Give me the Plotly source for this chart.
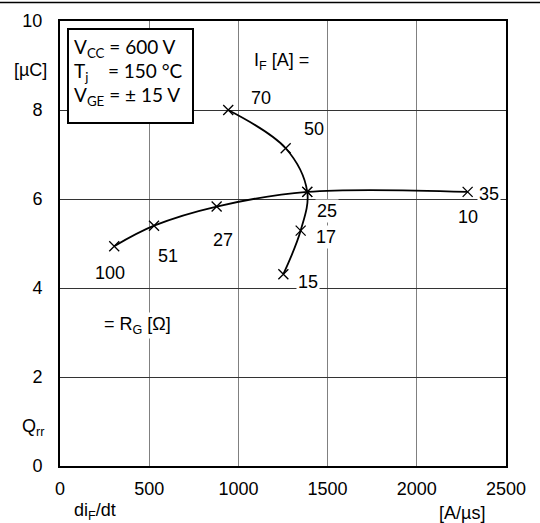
import plotly.graph_objects as go

# Qrr vs diF/dt
# R_G sweep (points labelled with gate resistance)
rg_labels = ["100", "51", "27", "25", "10"]
rg_didt = [304, 527, 878, 1386, 2285]
rg_qrr = [4.94, 5.40, 5.83, 6.16, 6.16]

# I_F sweep (points labelled with forward current)
if_labels = ["70", "50", "35", "17", "15"]
if_didt = [943, 1265, 1386, 1349, 1252]
if_qrr = [8.0, 7.14, 6.16, 5.29, 4.31]

# label positions next to the markers
rg_lab_x = [280, 605, 912, 1497, 2287]
rg_lab_y = [4.34, 4.72, 5.08, 5.73, 5.60]
if_lab_x = [1127, 1424, 2405, 1491, 1390]
if_lab_y = [8.27, 7.57, 6.11, 5.15, 4.13]

x_ticks = [0, 500, 1000, 1500, 2000, 2500]
y_ticks = [0, 2, 4, 6, 8, 10]

W, H = 540, 523
L, R, T, B = 60, 34, 21, 57
pw, ph = W - L - R, H - T - B


def px(x):
    return (x - L) / pw


def py(y):
    return (H - B - y) / ph


ARIAL = "Liberation Sans, Arial, sans-serif"
BOXFONT = "Lato, Carlito, sans-serif"


def label(x, y, t, ref="paper", **kw):
    d = dict(x=x, y=y, xref=ref, yref=ref, text=t, showarrow=False,
             xanchor="center", yanchor="middle",
             font=dict(family=ARIAL, size=18, color="black"))
    d.update(kw)
    return d


fig = go.Figure()
for xs, ys in [(rg_didt, rg_qrr), (if_didt, if_qrr)]:
    fig.add_trace(go.Scatter(
        x=xs, y=ys, mode="lines+markers",
        line=dict(color="black", width=1.8, shape="spline", smoothing=1),
        marker=dict(symbol="x-thin", size=10, line=dict(color="black", width=1.3)),
        showlegend=False, hoverinfo="skip",
    ))

# point labels (data coords, white background hides the grid behind them)
ann = []
for t, x, y in zip(rg_labels + if_labels, rg_lab_x + if_lab_x, rg_lab_y + if_lab_y):
    ann.append(label(x, y, t, ref="x", yref="y", bgcolor="white", borderpad=1))

ann.append(label(px(281), py(61), "I<sub>F</sub> [A] =", bgcolor="white"))
ann.append(label(px(137), py(325), "= R<sub>G</sub> [Ω]", bgcolor="white"))

# conditions box
box_lines = ["V<sub>CC</sub> = 600 V",
             "T<sub>j</sub>\u00a0\u00a0\u00a0 = 150 °C",
             "V<sub>GE</sub> = ± 15 V"]
for t, yy in zip(box_lines, [48, 72, 96]):
    ann.append(label(px(72), py(yy), t, xanchor="left",
                     font=dict(family=BOXFONT, size=19, color="black")))

# axis titles
ann += [
    label(px(30), py(70), "[µC]"),
    label(px(33), py(427), "Q<sub>rr</sub>"),
    label(px(95), py(511), "di<sub>F</sub>/dt"),
    label(px(462), py(513), "[A/µs]"),
]

shapes = [
    dict(type="rect", xref="paper", yref="paper", x0=px(68), x1=px(193), y0=py(29), y1=py(123),
         line=dict(color="black", width=2), fillcolor="white", layer="above"),
    dict(type="line", xref="paper", yref="paper", x0=px(0), x1=px(W), y0=py(2.5), y1=py(2.5),
         line=dict(color="black", width=1.5)),
]

fig.update_layout(
    width=W, height=H,
    margin=dict(l=L, r=R, t=T, b=B, autoexpand=False),
    paper_bgcolor="white", plot_bgcolor="white",
    annotations=ann, shapes=shapes,
    xaxis=dict(range=[0, 2500], tickvals=x_ticks, showgrid=True, gridcolor="#808080", gridwidth=1,
               showline=True, linecolor="black", linewidth=2, mirror=True, zeroline=False,
               ticks="", ticklabelstandoff=5, automargin=False,
               tickfont=dict(family=ARIAL, size=18, color="black")),
    yaxis=dict(range=[0, 10], tickvals=y_ticks, showgrid=True, gridcolor="#333333", gridwidth=1,
               showline=True, linecolor="black", linewidth=2, mirror=True, zeroline=False,
               ticks="", ticklabelstandoff=12, automargin=False,
               tickfont=dict(family=ARIAL, size=18, color="black")),
)

# page has a default 8px body margin; drop it so the figure fills the window
fig.write_html("out.html", config={"displayModeBar": False},
               post_script="document.body.style.margin='0';")
